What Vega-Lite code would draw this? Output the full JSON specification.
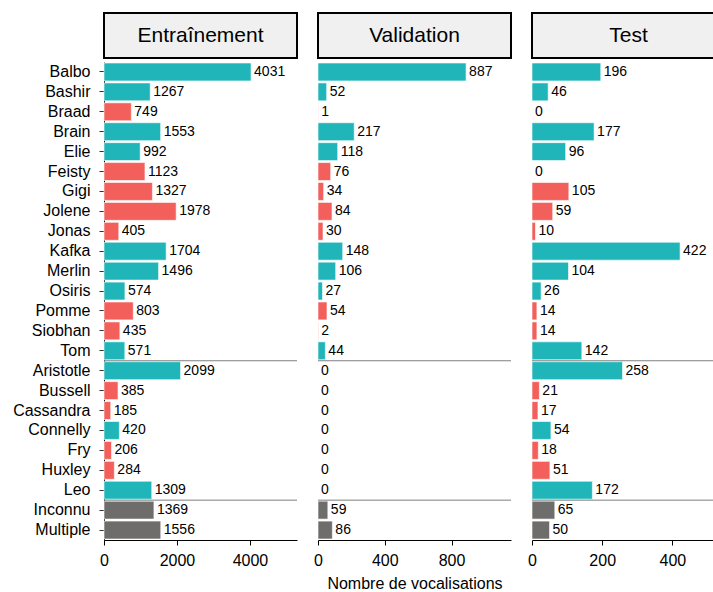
{
  "$schema": "https://vega.github.io/schema/vega-lite/v6.json",
  "padding": {"left": 12, "top": 12, "right": 0, "bottom": 0},
  "config": {
    "font": "Liberation Sans",
    "view": {"stroke": null},
    "axis": {"grid": false, "labelFont": "Liberation Sans", "titleFont": "Liberation Sans"}
  },
  "datasets": {
    "d": [
      {"name": "Balbo", "sexe": "M", "split": "Entraînement", "n": 4031},
      {"name": "Bashir", "sexe": "M", "split": "Entraînement", "n": 1267},
      {"name": "Braad", "sexe": "F", "split": "Entraînement", "n": 749},
      {"name": "Brain", "sexe": "M", "split": "Entraînement", "n": 1553},
      {"name": "Elie", "sexe": "M", "split": "Entraînement", "n": 992},
      {"name": "Feisty", "sexe": "F", "split": "Entraînement", "n": 1123},
      {"name": "Gigi", "sexe": "F", "split": "Entraînement", "n": 1327},
      {"name": "Jolene", "sexe": "F", "split": "Entraînement", "n": 1978},
      {"name": "Jonas", "sexe": "F", "split": "Entraînement", "n": 405},
      {"name": "Kafka", "sexe": "M", "split": "Entraînement", "n": 1704},
      {"name": "Merlin", "sexe": "M", "split": "Entraînement", "n": 1496},
      {"name": "Osiris", "sexe": "M", "split": "Entraînement", "n": 574},
      {"name": "Pomme", "sexe": "F", "split": "Entraînement", "n": 803},
      {"name": "Siobhan", "sexe": "F", "split": "Entraînement", "n": 435},
      {"name": "Tom", "sexe": "M", "split": "Entraînement", "n": 571},
      {"name": "Aristotle", "sexe": "M", "split": "Entraînement", "n": 2099},
      {"name": "Bussell", "sexe": "F", "split": "Entraînement", "n": 385},
      {"name": "Cassandra", "sexe": "F", "split": "Entraînement", "n": 185},
      {"name": "Connelly", "sexe": "M", "split": "Entraînement", "n": 420},
      {"name": "Fry", "sexe": "F", "split": "Entraînement", "n": 206},
      {"name": "Huxley", "sexe": "F", "split": "Entraînement", "n": 284},
      {"name": "Leo", "sexe": "M", "split": "Entraînement", "n": 1309},
      {"name": "Inconnu", "sexe": "NA", "split": "Entraînement", "n": 1369},
      {"name": "Multiple", "sexe": "NA", "split": "Entraînement", "n": 1556},

      {"name": "Balbo", "sexe": "M", "split": "Validation", "n": 887},
      {"name": "Bashir", "sexe": "M", "split": "Validation", "n": 52},
      {"name": "Braad", "sexe": "F", "split": "Validation", "n": 1},
      {"name": "Brain", "sexe": "M", "split": "Validation", "n": 217},
      {"name": "Elie", "sexe": "M", "split": "Validation", "n": 118},
      {"name": "Feisty", "sexe": "F", "split": "Validation", "n": 76},
      {"name": "Gigi", "sexe": "F", "split": "Validation", "n": 34},
      {"name": "Jolene", "sexe": "F", "split": "Validation", "n": 84},
      {"name": "Jonas", "sexe": "F", "split": "Validation", "n": 30},
      {"name": "Kafka", "sexe": "M", "split": "Validation", "n": 148},
      {"name": "Merlin", "sexe": "M", "split": "Validation", "n": 106},
      {"name": "Osiris", "sexe": "M", "split": "Validation", "n": 27},
      {"name": "Pomme", "sexe": "F", "split": "Validation", "n": 54},
      {"name": "Siobhan", "sexe": "F", "split": "Validation", "n": 2},
      {"name": "Tom", "sexe": "M", "split": "Validation", "n": 44},
      {"name": "Aristotle", "sexe": "M", "split": "Validation", "n": 0},
      {"name": "Bussell", "sexe": "F", "split": "Validation", "n": 0},
      {"name": "Cassandra", "sexe": "F", "split": "Validation", "n": 0},
      {"name": "Connelly", "sexe": "M", "split": "Validation", "n": 0},
      {"name": "Fry", "sexe": "F", "split": "Validation", "n": 0},
      {"name": "Huxley", "sexe": "F", "split": "Validation", "n": 0},
      {"name": "Leo", "sexe": "M", "split": "Validation", "n": 0},
      {"name": "Inconnu", "sexe": "NA", "split": "Validation", "n": 59},
      {"name": "Multiple", "sexe": "NA", "split": "Validation", "n": 86},

      {"name": "Balbo", "sexe": "M", "split": "Test", "n": 196},
      {"name": "Bashir", "sexe": "M", "split": "Test", "n": 46},
      {"name": "Braad", "sexe": "F", "split": "Test", "n": 0},
      {"name": "Brain", "sexe": "M", "split": "Test", "n": 177},
      {"name": "Elie", "sexe": "M", "split": "Test", "n": 96},
      {"name": "Feisty", "sexe": "F", "split": "Test", "n": 0},
      {"name": "Gigi", "sexe": "F", "split": "Test", "n": 105},
      {"name": "Jolene", "sexe": "F", "split": "Test", "n": 59},
      {"name": "Jonas", "sexe": "F", "split": "Test", "n": 10},
      {"name": "Kafka", "sexe": "M", "split": "Test", "n": 422},
      {"name": "Merlin", "sexe": "M", "split": "Test", "n": 104},
      {"name": "Osiris", "sexe": "M", "split": "Test", "n": 26},
      {"name": "Pomme", "sexe": "F", "split": "Test", "n": 14},
      {"name": "Siobhan", "sexe": "F", "split": "Test", "n": 14},
      {"name": "Tom", "sexe": "M", "split": "Test", "n": 142},
      {"name": "Aristotle", "sexe": "M", "split": "Test", "n": 258},
      {"name": "Bussell", "sexe": "F", "split": "Test", "n": 21},
      {"name": "Cassandra", "sexe": "F", "split": "Test", "n": 17},
      {"name": "Connelly", "sexe": "M", "split": "Test", "n": 54},
      {"name": "Fry", "sexe": "F", "split": "Test", "n": 18},
      {"name": "Huxley", "sexe": "F", "split": "Test", "n": 51},
      {"name": "Leo", "sexe": "M", "split": "Test", "n": 172},
      {"name": "Inconnu", "sexe": "NA", "split": "Test", "n": 65},
      {"name": "Multiple", "sexe": "NA", "split": "Test", "n": 50}
    ]
  },
  "columns": 3,
  "bounds": "flush",
  "spacing": {"row": 4, "column": 21},
  "concat": [
    {
      "width": 193, "height": 45,
      "view": {"fill": "#f0f0f0", "stroke": "black", "strokeWidth": 2},
      "data": {"values": [{"titre": "Entraînement"}]},
      "mark": {"type": "text", "fontSize": 21, "color": "black", "font": "Liberation Sans"},
      "encoding": {"text": {"field": "titre"}}
    },
    {
      "width": 193, "height": 45,
      "view": {"fill": "#f0f0f0", "stroke": "black", "strokeWidth": 2},
      "data": {"values": [{"titre": "Validation"}]},
      "mark": {"type": "text", "fontSize": 21, "color": "black", "font": "Liberation Sans"},
      "encoding": {"text": {"field": "titre"}}
    },
    {
      "width": 193, "height": 45,
      "view": {"fill": "#f0f0f0", "stroke": "black", "strokeWidth": 2},
      "data": {"values": [{"titre": "Test"}]},
      "mark": {"type": "text", "fontSize": 21, "color": "black", "font": "Liberation Sans"},
      "encoding": {"text": {"field": "titre"}}
    },
    {
      "width": 193, "height": 478,
      "layer": [
        {
          "data": {"name": "d"},
          "transform": [{"filter": "datum.split === 'Entraînement'"}],
          "encoding": {
            "y": {"field": "name", "type": "nominal",
              "scale": {"domain": ["Balbo","Bashir","Braad","Brain","Elie","Feisty","Gigi","Jolene","Jonas","Kafka","Merlin","Osiris","Pomme","Siobhan","Tom","Aristotle","Bussell","Cassandra","Connelly","Fry","Huxley","Leo","Inconnu","Multiple"], "paddingInner": 0, "paddingOuter": 0},
              "axis": {"title": null, "labelFontSize": 16, "labelColor": "black", "labelPadding": 9, "tickSize": 5, "tickColor": "#333", "domainColor": "black"}},
            "x": {"field": "n", "type": "quantitative", "scale": {"domain": [0, 5290], "nice": false},
              "axis": {"title": null, "values": [0, 2000, 4000], "format": "d", "labelFlush": false, "labelFontSize": 16, "labelColor": "black", "tickSize": 5, "tickColor": "black", "domainColor": "black", "labelPadding": 7}}
          },
          "layer": [
            {
              "mark": {"type": "bar", "height": {"band": 0.9}, "stroke": "white", "strokeOpacity": 0.6, "strokeWidth": 1},
              "encoding": {
                "color": {"field": "sexe", "type": "nominal", "scale": {"domain": ["M", "F", "NA"], "range": ["#20B5B8", "#F35F5B", "#6E6D6B"]}, "legend": null}
              }
            },
            {
              "mark": {"type": "text", "align": "left", "baseline": "middle", "dx": 3, "fontSize": 14, "color": "black"},
              "encoding": {"text": {"field": "n", "type": "quantitative", "format": "d"}}
            }
          ]
        },
        {
          "data": {"values": [{"name": "Aristotle"}, {"name": "Inconnu"}]},
          "mark": {"type": "rule", "color": "#7f7f7f", "strokeWidth": 1},
          "encoding": {"y": {"field": "name", "type": "nominal", "bandPosition": 0,
            "axis": {"title": null, "labelFontSize": 16, "labelColor": "black", "labelPadding": 9, "tickSize": 5, "tickColor": "#333", "domainColor": "black"}}}
        }
      ]
    },
    {
      "width": 193, "height": 478,
      "layer": [
        {
          "data": {"name": "d"},
          "transform": [{"filter": "datum.split === 'Validation'"}],
          "encoding": {
            "y": {"field": "name", "type": "nominal",
              "scale": {"domain": ["Balbo","Bashir","Braad","Brain","Elie","Feisty","Gigi","Jolene","Jonas","Kafka","Merlin","Osiris","Pomme","Siobhan","Tom","Aristotle","Bussell","Cassandra","Connelly","Fry","Huxley","Leo","Inconnu","Multiple"], "paddingInner": 0, "paddingOuter": 0},
              "axis": null},
            "x": {"field": "n", "type": "quantitative", "scale": {"domain": [0, 1156], "nice": false},
              "axis": {"title": "Nombre de vocalisations", "values": [0, 400, 800], "format": "d", "labelFlush": false, "labelFontSize": 16, "labelColor": "black", "tickSize": 5, "tickColor": "black", "domainColor": "black", "labelPadding": 7, "titleFontSize": 16, "titleFontWeight": "normal", "titleColor": "black", "titlePadding": 7}}
          },
          "layer": [
            {
              "mark": {"type": "bar", "height": {"band": 0.9}, "stroke": "white", "strokeOpacity": 0.6, "strokeWidth": 1},
              "encoding": {
                "color": {"field": "sexe", "type": "nominal", "scale": {"domain": ["M", "F", "NA"], "range": ["#20B5B8", "#F35F5B", "#6E6D6B"]}, "legend": null}
              }
            },
            {
              "mark": {"type": "text", "align": "left", "baseline": "middle", "dx": 3, "fontSize": 14, "color": "black"},
              "encoding": {"text": {"field": "n", "type": "quantitative", "format": "d"}}
            }
          ]
        },
        {
          "data": {"values": [{"name": "Aristotle"}, {"name": "Inconnu"}]},
          "mark": {"type": "rule", "color": "#7f7f7f", "strokeWidth": 1},
          "encoding": {"y": {"field": "name", "type": "nominal", "bandPosition": 0, "axis": null}}
        }
      ]
    },
    {
      "width": 193, "height": 478,
      "layer": [
        {
          "data": {"name": "d"},
          "transform": [{"filter": "datum.split === 'Test'"}],
          "encoding": {
            "y": {"field": "name", "type": "nominal",
              "scale": {"domain": ["Balbo","Bashir","Braad","Brain","Elie","Feisty","Gigi","Jolene","Jonas","Kafka","Merlin","Osiris","Pomme","Siobhan","Tom","Aristotle","Bussell","Cassandra","Connelly","Fry","Huxley","Leo","Inconnu","Multiple"], "paddingInner": 0, "paddingOuter": 0},
              "axis": null},
            "x": {"field": "n", "type": "quantitative", "scale": {"domain": [0, 550], "nice": false},
              "axis": {"title": null, "values": [0, 200, 400], "format": "d", "labelFlush": false, "labelFontSize": 16, "labelColor": "black", "tickSize": 5, "tickColor": "black", "domainColor": "black", "labelPadding": 7}}
          },
          "layer": [
            {
              "mark": {"type": "bar", "height": {"band": 0.9}, "stroke": "white", "strokeOpacity": 0.6, "strokeWidth": 1},
              "encoding": {
                "color": {"field": "sexe", "type": "nominal", "scale": {"domain": ["M", "F", "NA"], "range": ["#20B5B8", "#F35F5B", "#6E6D6B"]}, "legend": null}
              }
            },
            {
              "mark": {"type": "text", "align": "left", "baseline": "middle", "dx": 3, "fontSize": 14, "color": "black"},
              "encoding": {"text": {"field": "n", "type": "quantitative", "format": "d"}}
            }
          ]
        },
        {
          "data": {"values": [{"name": "Aristotle"}, {"name": "Inconnu"}]},
          "mark": {"type": "rule", "color": "#7f7f7f", "strokeWidth": 1},
          "encoding": {"y": {"field": "name", "type": "nominal", "bandPosition": 0, "axis": null}}
        }
      ]
    }
  ]
}
